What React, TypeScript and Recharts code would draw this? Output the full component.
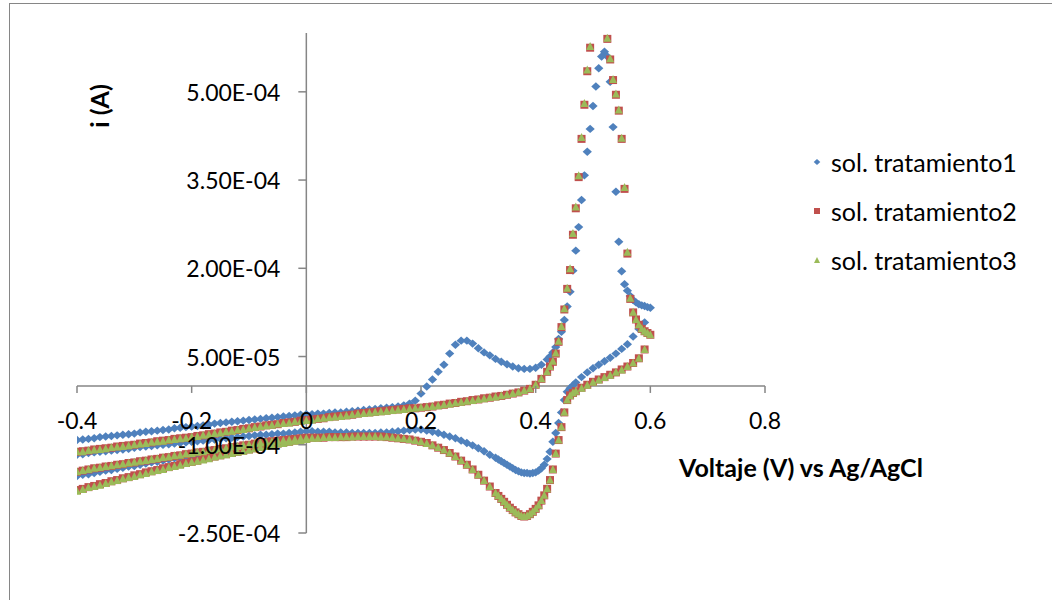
import { Legend, ReferenceDot, ReferenceLine, Scatter, ScatterChart, XAxis, YAxis } from 'recharts';

// sweep potentials, V vs Ag/AgCl: initial step 0 -> -0.4, forward -0.4 -> 0.6, reverse 0.6 -> -0.4
const V_INIT = [
  0, -0.01, -0.02, -0.03, -0.04, -0.05, -0.06, -0.07, -0.08, -0.09,
  -0.1, -0.11, -0.12, -0.13, -0.14, -0.15, -0.16, -0.17, -0.18, -0.19,
  -0.2, -0.21, -0.22, -0.23, -0.24, -0.25, -0.26, -0.27, -0.28, -0.29,
  -0.3, -0.31, -0.32, -0.33, -0.34, -0.35, -0.36, -0.37, -0.38, -0.39, -0.4,
];
const V_FWD = [
  -0.4, -0.39, -0.38, -0.37, -0.36, -0.35, -0.34, -0.33, -0.32, -0.31,
  -0.3, -0.29, -0.28, -0.27, -0.26, -0.25, -0.24, -0.23, -0.22, -0.21,
  -0.2, -0.19, -0.18, -0.17, -0.16, -0.15, -0.14, -0.13, -0.12, -0.11,
  -0.1, -0.09, -0.08, -0.07, -0.06, -0.05, -0.04, -0.03, -0.02, -0.01,
  0, 0.01, 0.02, 0.03, 0.04, 0.05, 0.06, 0.07, 0.08, 0.09,
  0.1, 0.11, 0.12, 0.13, 0.14, 0.15, 0.16, 0.17, 0.18, 0.19,
  0.2, 0.21, 0.22, 0.23, 0.24, 0.25, 0.26, 0.27, 0.28, 0.29,
  0.3, 0.31, 0.32, 0.33, 0.34, 0.35, 0.36, 0.37, 0.38, 0.39,
  0.4, 0.41, 0.42,
  0.425, 0.43, 0.435, 0.44, 0.445, 0.45, 0.455, 0.46, 0.465, 0.47,
  0.475, 0.48, 0.485, 0.49, 0.495, 0.5, 0.505, 0.51, 0.515, 0.52,
  0.525, 0.53, 0.535, 0.54, 0.545, 0.55, 0.555, 0.56, 0.565, 0.57,
  0.575, 0.58, 0.585, 0.59, 0.595, 0.6,
];
const V_REV = [
  0.59, 0.58, 0.57, 0.56, 0.55, 0.54, 0.53, 0.52, 0.51, 0.5, 0.49, 0.48, 0.47,
  0.465, 0.46, 0.455, 0.45, 0.445, 0.44, 0.435, 0.43, 0.425, 0.42,
  0.415, 0.41, 0.405, 0.4, 0.395, 0.39, 0.385, 0.38, 0.375, 0.37,
  0.365, 0.36, 0.355, 0.35, 0.345, 0.34, 0.335,
  0.33, 0.32, 0.31, 0.3, 0.29, 0.28, 0.27, 0.26, 0.25, 0.24,
  0.23, 0.22, 0.21, 0.2, 0.19, 0.18, 0.17, 0.16, 0.15, 0.14,
  0.13, 0.12, 0.11, 0.1, 0.09, 0.08, 0.07, 0.06, 0.05, 0.04,
  0.03, 0.02, 0.01, 0, -0.01, -0.02, -0.03, -0.04, -0.05, -0.06,
  -0.07, -0.08, -0.09, -0.1, -0.11, -0.12, -0.13, -0.14, -0.15, -0.16,
  -0.17, -0.18, -0.19, -0.2, -0.21, -0.22, -0.23, -0.24, -0.25, -0.26,
  -0.27, -0.28, -0.29, -0.3, -0.31, -0.32, -0.33, -0.34, -0.35, -0.36,
  -0.37, -0.38, -0.39, -0.4,
];

// currents in µA, one list per sweep segment
const S1_INIT = [
  -86, -87, -89, -90, -92, -93, -95, -96, -98, -100,
  -101, -103, -105, -106, -108, -110, -111, -113, -115, -117,
  -118, -120, -122, -123, -125, -127, -129, -130, -132, -134,
  -136, -137, -139, -141, -143, -144, -146, -148, -150, -151, -153,
];
const S1_FWD = [
  -92, -91, -90, -89, -87, -86, -85, -84, -83, -82,
  -81, -79, -78, -77, -76, -75, -74, -72, -71, -70,
  -69, -68, -67, -66, -64, -63, -62, -61, -60, -59,
  -58, -57, -56, -55, -54, -53, -52, -51, -50, -49,
  -48, -48, -47, -47, -46, -45, -45, -44, -43, -42,
  -41, -40, -39, -38, -37, -36, -35, -33, -30, -25,
  -13, -1, 11, 24, 36, 55, 70, 77, 77, 72,
  64, 57, 52, 46, 41, 37, 33, 30, 29, 29,
  31, 36, 45,
  50, 57, 66, 80, 92, 112, 135, 160, 196, 230,
  270, 316, 358, 398, 437, 476, 509, 540, 560, 568,
  560, 517, 440, 330, 245, 195, 173, 162, 153, 146,
  142, 139, 137, 136, 134, 133,
];
const S1_REV = [
  108, 97, 84, 71, 63, 55, 48, 42, 36, 30, 23, 15, 6,
  1, -4, -10, -24, -45, -63, -80, -95, -112, -124,
  -134, -140, -144, -147, -148, -149, -148, -148, -147, -145,
  -143, -140, -137, -134, -131, -128, -125,
  -122, -117, -111, -106, -101, -97, -93, -89, -86, -83,
  -80, -78, -76, -74, -74, -75, -76, -77, -78, -79,
  -79, -80, -80, -80, -80, -80, -79, -79, -79, -78,
  -78, -78, -77, -77, -78, -79, -80, -81, -81, -82,
  -83, -83, -84, -85, -86, -87, -88, -89, -90, -91,
  -92, -93, -94, -95, -96, -97, -98, -99, -100, -101,
  -102, -103, -104, -105, -107, -108, -109, -110, -111, -112,
  -113, -114, -116, -117,
];

const S2_INIT = [
  -90, -91, -93, -95, -96, -98, -100, -102, -104, -106,
  -108, -110, -112, -114, -116, -118, -120, -122, -124, -127,
  -129, -131, -133, -136, -138, -140, -143, -145, -147, -150,
  -152, -155, -157, -160, -162, -165, -167, -170, -172, -175, -177,
];
const S2_FWD = [
  -112, -111, -110, -108, -107, -106, -105, -103, -102, -101,
  -100, -98, -97, -96, -94, -93, -92, -90, -89, -88,
  -87, -85, -84, -82, -81, -79, -78, -76, -75, -73,
  -72, -70, -69, -67, -66, -65, -63, -62, -61, -59,
  -58, -57, -56, -55, -53, -52, -51, -50, -49, -47,
  -46, -45, -44, -43, -42, -41, -40, -39, -38, -38,
  -37, -36, -35, -33, -32, -30, -29, -27, -26, -24,
  -23, -21, -20, -18, -17, -15, -13, -11, -8, -5,
  2, 12, 24,
  33, 41, 55, 75, 100, 130, 165, 197, 257, 302,
  355, 420, 478, 535, 575, 612, 632, 641, 633, 612,
  590, 555, 520, 495, 468, 420, 335, 225, 148, 125,
  113, 104, 97, 93, 90, 87,
];
const S2_REV = [
  62, 47, 39, 33, 28, 23, 19, 15, 11, 7, 2, -3, -9,
  -12, -16, -24, -45, -70, -92, -115, -142, -160, -175,
  -186, -195, -203, -209, -214, -218, -221, -222, -221, -218,
  -215, -211, -207, -202, -197, -192, -187,
  -182, -171, -161, -151, -142, -134, -127, -120, -114, -109,
  -105, -101, -97, -95, -93, -91, -90, -89, -88, -87,
  -86, -86, -86, -86, -86, -86, -87, -87, -87, -87,
  -88, -88, -88, -88, -89, -90, -91, -92, -93, -94,
  -95, -96, -98, -100, -101, -103, -104, -106, -107, -109,
  -110, -112, -113, -115, -116, -118, -119, -121, -122, -124,
  -125, -127, -128, -130, -131, -133, -134, -136, -137, -139,
  -140, -142, -144, -146,
];

const S3_INIT = [
  -90, -92, -93, -95, -97, -98, -100, -102, -104, -106,
  -108, -110, -112, -114, -116, -118, -120, -123, -125, -127,
  -129, -131, -134, -136, -138, -141, -143, -145, -148, -150,
  -153, -155, -157, -160, -162, -165, -168, -170, -172, -175, -178,
];
const S3_FWD = [
  -111, -111, -109, -108, -107, -106, -104, -103, -102, -101,
  -99, -98, -97, -95, -94, -93, -91, -90, -89, -88,
  -86, -85, -83, -82, -80, -79, -77, -76, -74, -73,
  -71, -70, -68, -67, -66, -64, -63, -62, -60, -59,
  -58, -57, -55, -54, -53, -52, -51, -50, -48, -47,
  -46, -45, -44, -43, -42, -41, -40, -39, -38, -37,
  -36, -35, -34, -33, -31, -30, -28, -27, -25, -24,
  -22, -21, -19, -18, -16, -14, -12, -10, -7, -4,
  3, 13, 25,
  34, 43, 57, 77, 102, 132, 167, 200, 260, 305,
  358, 423, 481, 538, 578, 615, 635, 644, 636, 615,
  592, 557, 522, 497, 470, 422, 338, 228, 150, 126,
  114, 105, 98, 94, 91, 88,
];
const S3_REV = [
  63, 48, 40, 34, 28, 24, 19, 15, 11, 7, 2, -3, -8,
  -11, -16, -23, -44, -69, -91, -114, -141, -159, -174,
  -185, -194, -202, -208, -213, -217, -220, -221, -220, -217,
  -214, -210, -206, -201, -196, -191, -186,
  -181, -170, -160, -150, -141, -133, -126, -119, -113, -108,
  -104, -100, -97, -94, -92, -90, -89, -88, -87, -86,
  -86, -85, -85, -85, -85, -86, -86, -86, -87, -87,
  -87, -88, -88, -88, -89, -90, -91, -92, -93, -94,
  -95, -96, -97, -99, -100, -102, -103, -105, -106, -108,
  -109, -111, -112, -114, -115, -117, -118, -120, -121, -123,
  -124, -126, -127, -129, -130, -132, -133, -135, -136, -138,
  -139, -141, -143, -145,
];

const X_TICKS = [-0.4, -0.2, 0, 0.2, 0.4, 0.6, 0.8];
const Y_TICKS = [-2.5e-4, -1e-4, 5e-5, 2e-4, 3.5e-4, 5e-4];

const AXIS = '#868686';
const FONT = 'Lato, "Open Sans", sans-serif';

type Kind = 'diamond' | 'square' | 'triangle';

function toRows(v: number[], ua: number[]) {
  return v.map((x, k) => ({ v: x, i: ua[k] * 1e-6 }));
}

const SERIES: { name: string; color: string; kind: Kind; rows: { v: number; i: number }[] }[] = [
  {
    name: 'sol. tratamiento1',
    color: '#4F81BD',
    kind: 'diamond',
    rows: [...toRows(V_INIT, S1_INIT), ...toRows(V_FWD, S1_FWD), ...toRows(V_REV, S1_REV)],
  },
  {
    name: 'sol. tratamiento2',
    color: '#C0504D',
    kind: 'square',
    rows: [...toRows(V_INIT, S2_INIT), ...toRows(V_FWD, S2_FWD), ...toRows(V_REV, S2_REV)],
  },
  {
    name: 'sol. tratamiento3',
    color: '#9BBB59',
    kind: 'triangle',
    rows: [...toRows(V_INIT, S3_INIT), ...toRows(V_FWD, S3_FWD), ...toRows(V_REV, S3_REV)],
  },
];

// Excel style scientific labels: 5.00E-04
function sci(n: number) {
  const [m, e] = n.toExponential(2).split('e');
  const ex = Number(e);
  return `${m}E${ex < 0 ? '-' : '+'}${String(Math.abs(ex)).padStart(2, '0')}`;
}

function Marker({ kind, cx, cy, s, color }: { kind: Kind; cx: number; cy: number; s: number; color: string }) {
  if (kind === 'diamond') {
    const w = s * 1.1;
    return <path d={`M${cx},${cy - s}L${cx + w},${cy}L${cx},${cy + s}L${cx - w},${cy}Z`} fill={color} />;
  }
  if (kind === 'square') {
    return <rect x={cx - s} y={cy - s} width={2 * s} height={2 * s} fill={color} />;
  }
  return <path d={`M${cx},${cy - s}L${cx + s},${cy + s}L${cx - s},${cy + s}Z`} fill={color} />;
}

function LegendBox() {
  return (
    <div style={{ fontFamily: FONT, fontSize: 25, color: '#000' }}>
      {SERIES.map((s) => (
        <div key={s.name} style={{ height: 49, display: 'flex', alignItems: 'center' }}>
          <svg width={18} height={18}>
            <Marker kind={s.kind} cx={9} cy={9} s={3} color={s.color} />
          </svg>
          <span style={{ marginLeft: 5, whiteSpace: 'nowrap' }}>{s.name}</span>
        </div>
      ))}
    </div>
  );
}

export default function App() {
  return (
    <div style={{ position: 'absolute', left: 0, top: 0, width: 1052, height: 600, background: '#fff' }}>
      <ScatterChart width={1052} height={600} margin={{ top: 33, right: 287, bottom: 67, left: 77 }}>
        <XAxis type="number" dataKey="v" domain={[-0.4, 0.8]} allowDataOverflow hide />
        <YAxis type="number" dataKey="i" domain={[-2.5e-4, 6e-4]} allowDataOverflow hide />
        <ReferenceLine y={0} stroke={AXIS} strokeWidth={1.5} />
        <ReferenceLine x={0} stroke={AXIS} strokeWidth={1.5} />
        {SERIES.map((s) => (
          <Scatter
            key={s.name}
            name={s.name}
            data={s.rows}
            fill={s.color}
            isAnimationActive={false}
            shape={(p: any) => <Marker kind={s.kind} cx={p.cx} cy={p.cy} s={s.kind === 'diamond' ? 4.2 : 4} color={s.color} />}
          />
        ))}
        {X_TICKS.map((t) => (
          <ReferenceDot
            key={`x${t}`}
            x={t}
            y={0}
            r={1}
            shape={(p: any) => (
              <g>
                <line x1={p.cx} y1={p.cy} x2={p.cx} y2={p.cy + 7} stroke={AXIS} strokeWidth={1.5} />
                <text x={p.cx} y={p.cy + 34} textAnchor="middle" dominantBaseline="central" fontFamily={FONT} fontSize={23} fill="#000">
                  {String(t)}
                </text>
              </g>
            )}
          />
        ))}
        {Y_TICKS.map((t) => (
          <ReferenceDot
            key={`y${t}`}
            x={0}
            y={t}
            r={1}
            shape={(p: any) => (
              <g>
                <line x1={p.cx - 8} y1={p.cy} x2={p.cx} y2={p.cy} stroke={AXIS} strokeWidth={1.5} />
                <text x={p.cx - 26} y={p.cy} textAnchor="end" dominantBaseline="central" fontFamily={FONT} fontSize={23} fill="#000">
                  {sci(t)}
                </text>
              </g>
            )}
          />
        ))}
        <Legend
          content={() => <LegendBox />}
          layout="horizontal"
          verticalAlign="middle"
          align="center"
          wrapperStyle={{ left: 808, top: 137, width: 240, height: 147 }}
        />
      </ScatterChart>
      <svg width={1052} height={600} style={{ position: 'absolute', left: 0, top: 0, pointerEvents: 'none' }}>
        <rect x={9.5} y={3.5} width={1100} height={700} fill="none" stroke={AXIS} />
        <text x={801} y={467} textAnchor="middle" dominantBaseline="central" fontFamily={FONT} fontSize={25} fontWeight="bold">
          Voltaje (V) vs Ag/AgCl
        </text>
        <text transform="translate(99,106) rotate(-90)" textAnchor="middle" dominantBaseline="central" fontFamily={FONT} fontSize={25} fontWeight="bold">
          i (A)
        </text>
      </svg>
    </div>
  );
}
